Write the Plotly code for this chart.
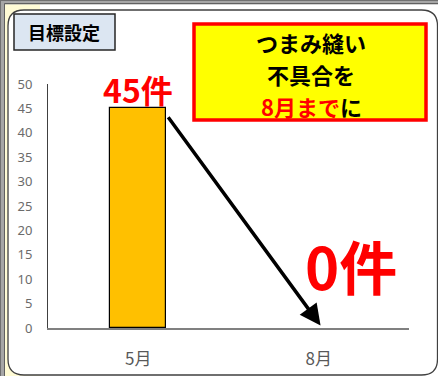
import plotly.graph_objects as go

# ---- data ----
categories = ["5月", "8月"]
counts = [45, 0]
count_labels = ["45件", "0件"]
y_ticks = [0, 5, 10, 15, 20, 25, 30, 35, 40, 45, 50]
title_text = "目標設定"
goal_lines = ["つまみ縫い", "不具合を"]
goal_red = "8月まで"
goal_black = "に"

W, H = 438, 376
L, R, T, B = 48, 409, 84, 328  # plot area in px


def X(px):
    return (px - L) / (R - L)


def Y(py):
    return (B - py) / (B - T)


JP = "Noto Sans CJK JP"

fig = go.Figure()
fig.add_trace(go.Bar(
    x=categories, y=counts, width=0.31,
    marker=dict(color="#FFC000",
                line=dict(color="#000000", width=[1.2 if v > 0 else 0 for v in counts])),
    hoverinfo="skip",
))

shapes = []
# cream strip and corner
shapes.append(dict(type="rect", xref="paper", yref="paper", x0=X(0), x1=X(40), y0=Y(376), y1=Y(0),
                   fillcolor="#FFFBD5", line=dict(width=0), layer="below"))
# rounded white panel
r = 16
l0, t0, r0, b0 = 8, 10, 437.5, 375
path = (f"M {X(l0)},{Y(t0 + r)} Q {X(l0)},{Y(t0)} {X(l0 + r)},{Y(t0)} "
        f"L {X(r0 - r)},{Y(t0)} Q {X(r0)},{Y(t0)} {X(r0)},{Y(t0 + r)} "
        f"L {X(r0)},{Y(b0 - r)} Q {X(r0)},{Y(b0)} {X(r0 - r)},{Y(b0)} "
        f"L {X(l0 + r)},{Y(b0)} Q {X(l0)},{Y(b0)} {X(l0)},{Y(b0 - r)} Z")
shapes.append(dict(type="path", xref="paper", yref="paper", path=path,
                   fillcolor="#FFFFFF", line=dict(color="#404040", width=1.3), layer="below"))
# outer gray frame (top and left)
shapes.append(dict(type="rect", xref="paper", yref="paper", x0=X(0), x1=X(438), y0=Y(4.5), y1=Y(0),
                   fillcolor="#A6A6A6", line=dict(width=0), layer="below"))
shapes.append(dict(type="rect", xref="paper", yref="paper", x0=X(0), x1=X(5), y0=Y(376), y1=Y(0),
                   fillcolor="#A6A6A6", line=dict(width=0), layer="below"))
shapes.append(dict(type="line", xref="paper", yref="paper", x0=X(4.5), x1=X(438), y0=Y(3.5), y1=Y(3.5),
                   line=dict(color="#606060", width=1), layer="below"))
shapes.append(dict(type="line", xref="paper", yref="paper", x0=X(4.5), x1=X(4.5), y0=Y(376), y1=Y(3.5),
                   line=dict(color="#606060", width=1), layer="below"))
shapes.append(dict(type="line", xref="paper", yref="paper", x0=X(0), x1=X(438), y0=Y(0.5), y1=Y(0.5),
                   line=dict(color="#707070", width=1), layer="below"))
shapes.append(dict(type="line", xref="paper", yref="paper", x0=X(0.5), x1=X(0.5), y0=Y(376), y1=Y(0),
                   line=dict(color="#707070", width=1), layer="below"))
# title box
shapes.append(dict(type="rect", xref="paper", yref="paper", x0=X(14), x1=X(115), y0=Y(50), y1=Y(14),
                   fillcolor="#DCE6F2", line=dict(color="#262626", width=1.5), layer="below"))
# goal box
shapes.append(dict(type="rect", xref="paper", yref="paper", x0=X(194), x1=X(426), y0=Y(120), y1=Y(24),
                   fillcolor="#FFFF00", line=dict(color="#FF0000", width=3.5), layer="below"))

annotations = []
annotations.append(dict(xref="paper", yref="paper", x=X(64), y=Y(32), text=f"<b>{title_text}</b>",
                        showarrow=False, font=dict(family=JP, size=18, color="#000000"),
                        xanchor="center", yanchor="middle"))
for i, line in enumerate(goal_lines):
    annotations.append(dict(xref="paper", yref="paper", x=X(311), y=Y(42 + 32 * i), text=f"<b>{line}</b>",
                            showarrow=False, font=dict(family=JP, size=22, color="#000000"),
                            xanchor="center", yanchor="middle"))
annotations.append(dict(xref="paper", yref="paper", x=X(311), y=Y(106),
                        text=f"<b><span style='color:#FF0000'>{goal_red}</span>{goal_black}</b>",
                        showarrow=False, font=dict(family=JP, size=22, color="#000000"),
                        xanchor="center", yanchor="middle"))
# value labels
annotations.append(dict(xref="x", yref="y", x=0, y=counts[0] + 3.9, text=f"<b>{count_labels[0]}</b>",
                        showarrow=False, font=dict(family=JP, size=32, color="#FF0000"),
                        xanchor="center", yanchor="middle"))
annotations.append(dict(xref="x", yref="y", x=1.18, y=counts[1] + 13.0, text=f"<b>{count_labels[1]}</b>",
                        showarrow=False, font=dict(family=JP, size=58, color="#FF0000"),
                        xanchor="center", yanchor="middle"))
# arrow from bar top-right to 8月 zero
annotations.append(dict(xref="x", yref="y", axref="x", ayref="y",
                        x=1.01, y=counts[1] + 0.5, ax=0.16, ay=counts[0] - 1.5,
                        text="", showarrow=True, arrowhead=2, arrowsize=1.2, arrowwidth=3.5,
                        arrowcolor="#000000"))

fig.update_layout(
    width=W, height=H,
    margin=dict(l=L, r=W - R, t=T, b=H - B, pad=0, autoexpand=False),
    paper_bgcolor="#FFFFFF", plot_bgcolor="rgba(0,0,0,0)",
    showlegend=False, bargap=0,
    shapes=shapes, annotations=annotations,
    xaxis=dict(type="category", range=[-0.5, 1.5], showgrid=False, zeroline=False, automargin=False,
               showline=True, linecolor="#808080", linewidth=2, ticks="",
               tickfont=dict(family=JP, size=17, color="#595959"), ticklabelstandoff=15),
    yaxis=dict(range=[0, 50], tickvals=y_ticks, showgrid=False, zeroline=False, automargin=False,
               showline=True, linecolor="#404040", linewidth=1, ticks="",
               tickfont=dict(family="Noto Sans", size=13, color="#6b6b6b"), ticklabelstandoff=12),
)

fig.write_html("out.html")
